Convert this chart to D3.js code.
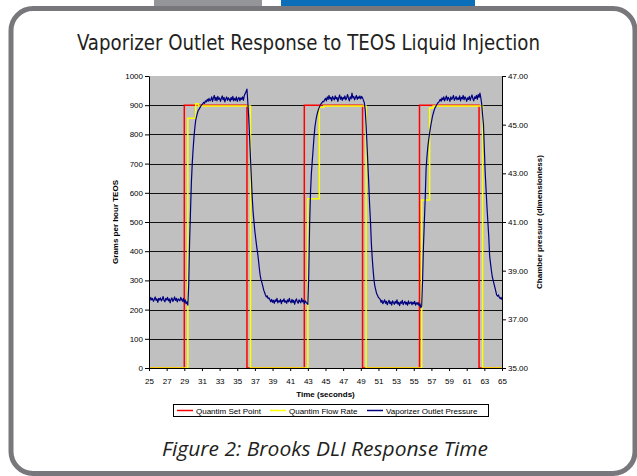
<!DOCTYPE html>
<html><head><meta charset="utf-8">
<script src="https://cdn.jsdelivr.net/npm/d3@7"></script>
<style>
html,body{margin:0;padding:0;background:#fff;}
svg{display:block;}
</style></head><body>
<svg id="c" width="637" height="476"></svg>
<script>
const chartTitle = "Vaporizer Outlet Response to TEOS Liquid Injection";
const figureCaption = "Figure 2: Brooks DLI Response Time";
const xAxisTitle = "Time (seconds)";
const leftAxisTitle = "Grams per hour TEOS";
const rightAxisTitle = "Chamber pressure (dimensionless)";
const seriesNames = ["Quantim Set Point", "Quantim Flow Rate", "Vaporizer Outlet Pressure"];
const seriesColors = ["#ff0000", "#ffff00", "#000080"];

const timeTicks = [25,27,29,31,33,35,37,39,41,43,45,47,49,51,53,55,57,59,61,63,65];
const leftTicks = [0,100,200,300,400,500,600,700,800,900,1000];
const rightTicks = [35,37,39,41,43,45,47];

const setPointTimes  = [25, 29.0, 36.1, 42.6, 49.2, 55.65, 62.4, 65];
const setPointValues = [0, 900, 0, 900, 0, 900, 0, 0];

const flowTimes  = [25, 29.4, 30.3, 30.6, 36.5, 43.0, 44.3, 44.8, 49.6, 55.9, 56.8, 57.2, 62.8, 65];
const flowValues = [0, 855, 905, 897, 0, 580, 893, 897, 0, 575, 890, 897, 0, 0];

const pressureStartTime = 25;
const pressureSampleStep = 0.1;
const pressureValues = [
37.84,37.78,37.90,37.80,37.86,37.74,37.82,37.92,37.78,37.84,
37.70,37.86,37.80,37.88,37.76,37.82,37.94,37.78,37.72,37.86,
37.80,37.90,37.76,37.84,37.68,37.82,37.88,37.74,37.80,37.92,
37.78,37.86,37.72,37.84,37.80,37.76,37.90,37.82,37.74,37.86,
37.70,37.80,37.64,37.72,37.58,38.40,40.20,41.40,42.60,43.40,
44.00,44.50,44.90,45.20,45.35,45.50,45.60,45.65,45.72,45.78,
45.82,45.86,45.92,45.88,45.98,45.94,46.04,45.96,46.08,45.98,
46.02,46.14,45.96,46.10,46.20,46.00,46.12,45.98,46.16,46.04,
46.10,45.96,46.08,46.18,46.02,46.12,45.94,46.06,46.14,46.00,
46.10,46.04,45.96,46.12,46.02,46.16,45.98,46.08,46.00,46.14,
45.96,46.06,46.12,45.98,46.10,46.04,46.14,46.00,46.20,46.28,
46.36,46.46,45.90,45.30,44.50,43.60,42.80,42.00,41.40,41.00,
40.60,40.30,40.00,39.75,39.45,39.10,38.80,38.62,38.50,38.35,
38.20,38.10,38.00,37.92,37.96,37.85,37.88,37.80,37.72,37.82,
37.70,37.78,37.66,37.80,37.74,37.86,37.68,37.76,37.72,37.82,
37.64,37.78,37.74,37.84,37.70,37.76,37.66,37.80,37.72,37.86,
37.74,37.68,37.82,37.70,37.78,37.62,37.76,37.84,37.72,37.66,
37.80,37.74,37.68,37.86,37.72,37.78,37.64,37.76,37.70,37.66,
37.62,38.80,40.90,42.20,43.00,43.50,44.00,44.50,44.90,45.15,
45.35,45.50,45.62,45.72,45.80,45.86,45.90,45.96,45.94,46.02,
46.08,45.98,46.14,46.04,46.20,46.06,46.12,45.98,46.16,46.08,
46.02,46.18,46.06,46.12,45.96,46.10,46.22,46.04,46.14,46.00,
46.12,46.06,46.18,46.02,46.10,46.24,46.08,45.98,46.14,46.06,
46.30,46.10,46.16,46.02,46.12,46.20,46.04,46.14,46.08,46.18,
46.06,46.16,46.10,46.00,45.90,45.60,45.00,44.20,43.40,42.60,
41.70,41.00,40.10,39.50,39.00,38.60,38.35,38.20,38.05,37.98,
37.90,37.86,37.82,37.70,37.78,37.64,37.72,37.80,37.66,37.74,
37.60,37.70,37.78,37.64,37.72,37.58,37.76,37.68,37.62,37.74,
37.66,37.80,37.62,37.70,37.56,37.72,37.66,37.78,37.60,37.68,
37.74,37.62,37.70,37.58,37.76,37.64,37.68,37.72,37.60,37.70,
37.64,37.74,37.58,37.68,37.62,37.70,37.56,37.64,37.48,37.55,
38.60,40.00,41.00,42.00,43.20,43.70,44.10,44.40,44.65,44.90,
45.10,45.30,45.45,45.58,45.68,45.75,45.82,45.88,45.92,45.96,
46.04,45.96,46.10,46.02,46.14,45.98,46.08,46.18,46.00,46.12,
46.06,45.96,46.14,46.04,46.10,46.20,46.00,46.08,46.16,46.02,
46.10,46.04,46.18,45.98,46.12,46.06,46.20,46.02,46.14,46.08,
45.96,46.10,46.04,46.16,46.00,46.12,46.22,46.06,45.98,46.14,
46.08,46.20,46.04,46.24,46.12,46.30,46.10,45.85,45.40,45.00,
44.00,43.00,42.30,41.60,41.00,40.40,39.60,39.30,39.00,38.75,
38.60,38.45,38.30,38.15,38.00,37.95,38.00,37.90,37.85,37.90,
37.80
];

const svg = d3.select("#c");
const FONT = "'Liberation Sans', Arial, sans-serif";

// Page frame and tabs
svg.append("rect").attr("x", 154).attr("y", 0).attr("width", 108).attr("height", 8).attr("fill", "#939598");
svg.append("rect").attr("x", 281).attr("y", 0).attr("width", 194).attr("height", 8).attr("fill", "#0a6eb8");
svg.append("rect").attr("x", 11).attr("y", 8.5).attr("width", 624).attr("height", 465)
  .attr("rx", 22).attr("ry", 22).attr("fill", "none").attr("stroke", "#78787c").attr("stroke-width", 5);

// Title and caption
svg.append("text").attr("x", 77).attr("y", 50).text(chartTitle)
  .attr("font-family", "'Liberation Sans Narrow','DejaVu Sans Condensed','Open Sans',sans-serif")
  .attr("font-size", 22).attr("fill", "#231f20")
  .attr("textLength", 463).attr("lengthAdjust", "spacingAndGlyphs");
svg.append("text").attr("x", 162).attr("y", 456).text(figureCaption)
  .attr("font-family", "'Open Sans','Noto Sans',sans-serif").attr("font-style", "italic")
  .attr("font-size", 20).attr("fill", "#231f20")
  .attr("textLength", 326).attr("lengthAdjust", "spacingAndGlyphs");

// Scales
const L = 149, R = 502, T = 76, B = 368;
const x = d3.scaleLinear().domain([25, 65]).range([L, R]);
const yL = d3.scaleLinear().domain([0, 1000]).range([B, T]);
const yR = d3.scaleLinear().domain([35, 47]).range([B, T]);

// Plot area
svg.append("rect").attr("x", L).attr("y", T).attr("width", R - L).attr("height", B - T).attr("fill", "#c0c0c0");
svg.append("g").selectAll("line").data(leftTicks.filter(d => d > 0 && d < 1000)).join("line")
  .attr("x1", L).attr("x2", R)
  .attr("y1", d => Math.round(yL(d)) + 0.5).attr("y2", d => Math.round(yL(d)) + 0.5)
  .attr("stroke", "#111").attr("stroke-width", 1);

svg.append("clipPath").attr("id", "clip").append("rect")
  .attr("x", L).attr("y", T - 2).attr("width", R - L).attr("height", B - T + 2);

const plot = svg.append("g").attr("clip-path", "url(#clip)");
const stepLine = d3.line().curve(d3.curveStepAfter).x(d => x(d[0])).y(d => yL(d[1]));

plot.append("path").datum(setPointTimes.map((t, i) => [t, setPointValues[i]]))
  .attr("d", stepLine).attr("fill", "none").attr("stroke", seriesColors[0]).attr("stroke-width", 1.5);
plot.append("path").datum(flowTimes.map((t, i) => [t, flowValues[i]]))
  .attr("d", stepLine).attr("fill", "none").attr("stroke", seriesColors[1]).attr("stroke-width", 1.5);

const pLine = d3.line()
  .x((d, i) => x(pressureStartTime + i * pressureSampleStep))
  .y(d => yR(d));
plot.append("path").datum(pressureValues)
  .attr("d", pLine).attr("fill", "none").attr("stroke", seriesColors[2]).attr("stroke-width", 1.2)
  .attr("stroke-linejoin", "round");

// Axes
function styleAxis(g) {
  g.selectAll("text").attr("font-family", FONT).attr("font-size", 8).attr("fill", "#000");
  g.selectAll("path,line").attr("stroke", "#000");
}
svg.append("g").attr("transform", `translate(${L},0)`)
  .call(d3.axisLeft(yL).tickValues(leftTicks).tickSize(4).tickPadding(2).tickSizeOuter(0).tickFormat(d3.format("d")))
  .call(styleAxis);
svg.append("g").attr("transform", `translate(${R},0)`)
  .call(d3.axisRight(yR).tickValues(rightTicks).tickSize(4).tickPadding(2).tickSizeOuter(0).tickFormat(d => d.toFixed(2)))
  .call(styleAxis);
svg.append("g").attr("transform", `translate(0,${B})`)
  .call(d3.axisBottom(x).tickValues(timeTicks).tickSize(3).tickPadding(7).tickSizeOuter(0).tickFormat(d3.format("d")))
  .call(styleAxis);

// Axis titles
svg.append("text").attr("x", (L + R) / 2).attr("y", 397).attr("text-anchor", "middle")
  .attr("font-family", FONT).attr("font-size", 8).attr("font-weight", "bold").text(xAxisTitle);
svg.append("text").attr("transform", `translate(118,${(T + B) / 2}) rotate(-90)`).attr("text-anchor", "middle")
  .attr("font-family", FONT).attr("font-size", 8).attr("font-weight", "bold").text(leftAxisTitle);
svg.append("text").attr("transform", `translate(542,${(T + B) / 2}) rotate(-90)`).attr("text-anchor", "middle")
  .attr("font-family", FONT).attr("font-size", 8).attr("font-weight", "bold").text(rightAxisTitle);

// Legend
const leg = svg.append("g");
leg.append("rect").attr("x", 173.5).attr("y", 404.5).attr("width", 315).attr("height", 12)
  .attr("fill", "#fff").attr("stroke", "#000").attr("stroke-width", 1);
const legX = [177, 270, 367];
seriesNames.forEach((name, i) => {
  leg.append("line").attr("x1", legX[i]).attr("x2", legX[i] + 16).attr("y1", 410.5).attr("y2", 410.5)
    .attr("stroke", seriesColors[i]).attr("stroke-width", 1.5);
  leg.append("text").attr("x", legX[i] + 19).attr("y", 413.5).attr("font-family", FONT).attr("font-size", 8)
    .attr("fill", "#000").text(name);
});
</script>
</body></html>
